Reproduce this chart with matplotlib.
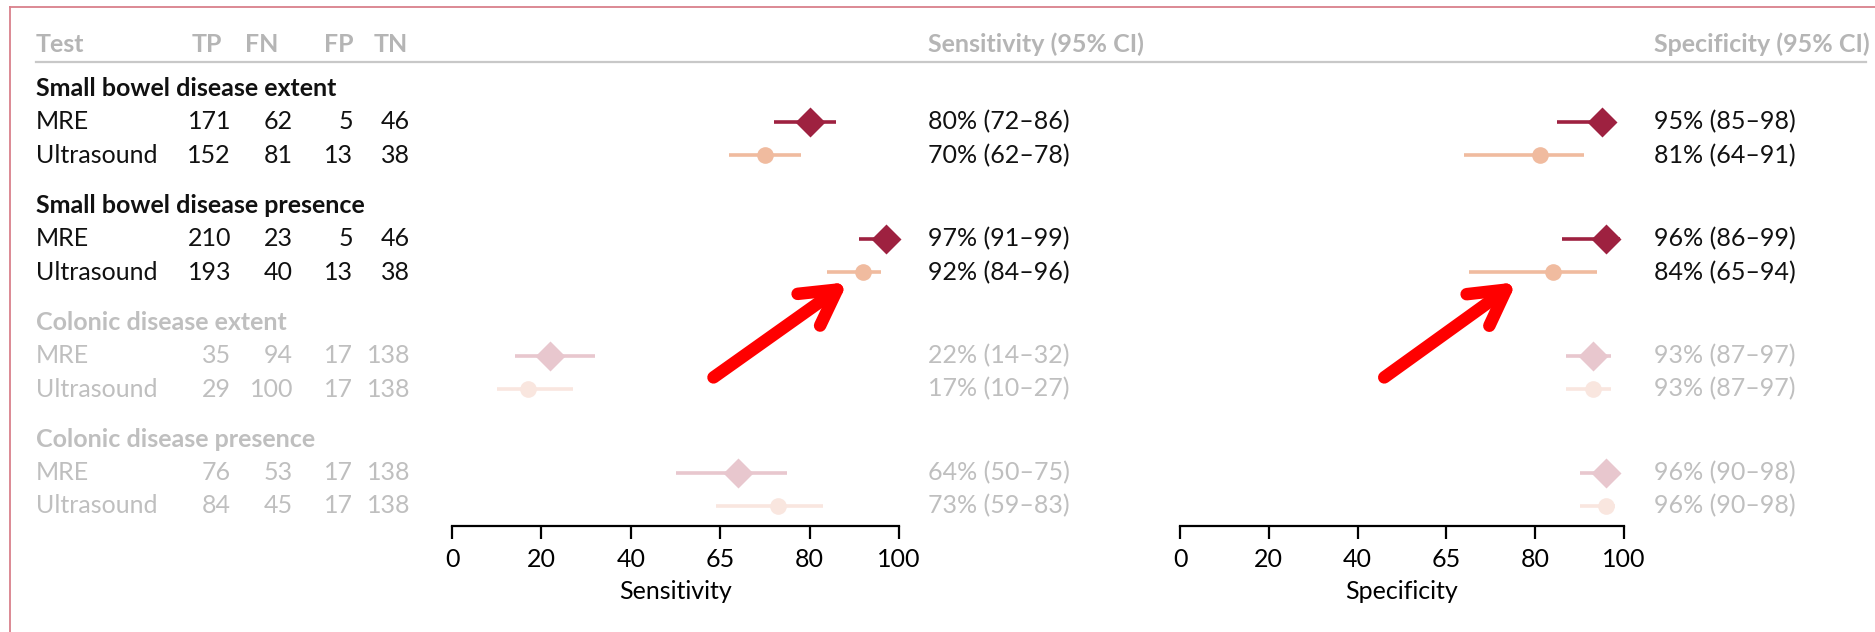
import matplotlib
matplotlib.use("Agg")
import matplotlib.pyplot as plt
from matplotlib.lines import Line2D

plt.rcParams['font.family'] = ['Lato', 'DejaVu Sans']

# ---- data ----
groups = ["Small bowel disease extent", "Small bowel disease presence",
          "Colonic disease extent", "Colonic disease presence"]
tests = ["MRE", "Ultrasound"] * 4
tp = [171, 152, 210, 193, 35, 29, 76, 84]
fn = [62, 81, 23, 40, 94, 100, 53, 45]
fp = [5, 13, 5, 13, 17, 17, 17, 17]
tn = [46, 38, 46, 38, 138, 138, 138, 138]
sens = [80, 70, 97, 92, 22, 17, 64, 73]
sens_lo = [72, 62, 91, 84, 14, 10, 50, 59]
sens_hi = [86, 78, 99, 96, 32, 27, 75, 83]
spec = [95, 81, 96, 84, 93, 93, 96, 96]
spec_lo = [85, 64, 86, 65, 87, 87, 90, 90]
spec_hi = [98, 91, 99, 94, 97, 97, 98, 98]
tick_pos = [0, 20, 40, 60, 80, 100]
tick_labels = ["0", "20", "40", "65", "80", "100"]

# colours
dark_mre, dark_us = "#9e2140", "#f0bb9f"
pale_mre, pale_us = "#e8c7ce", "#f9e6df"
txt_dark, txt_pale, hdr_grey = "#111111", "#bfbfbf", "#b5b5b5"

W, H = 1875, 632
fig = plt.figure(figsize=(W / 100, H / 100), dpi=100)

# rows: group header at 3.5*g, tests at 3.5*g + 1 and + 2
def px_to_row(py):
    return (py - 88.5) / 33.4

ylim = (px_to_row(H), px_to_row(0))
axis_row = px_to_row(526)

bg = fig.add_axes([0, 0, 1, 1])
bg.set_xlim(0, W)
bg.set_ylim(*ylim)
bg.axis("off")

fs = 18
# column headers
hy = px_to_row(44)
bg.text(36, hy, "Test", color=hdr_grey, fontsize=fs, fontweight="bold", va="center")
for lab, xr in zip(["TP", "FN", "FP", "TN"], [222, 278, 354, 408]):
    bg.text(xr, hy, lab, color=hdr_grey, fontsize=fs, fontweight="bold", va="center", ha="right")
bg.text(928, hy, "Sensitivity (95% CI)", color=hdr_grey, fontsize=fs, fontweight="bold", va="center")
bg.text(1654, hy, "Specificity (95% CI)", color=hdr_grey, fontsize=fs, fontweight="bold", va="center")
bg.plot([36, 1866], [px_to_row(62)] * 2, color="#c8c8c8", lw=1.6)

row_y = []
for g, name in enumerate(groups):
    faded = g >= 2
    bg.text(36, 3.5 * g, name, fontsize=fs, fontweight="bold", va="center",
            color=txt_pale if faded else txt_dark)
    row_y += [3.5 * g + 1, 3.5 * g + 2]

for i, y in enumerate(row_y):
    col = txt_pale if i >= 4 else txt_dark
    bg.text(36, y, tests[i], fontsize=fs, va="center", color=col)
    for val, xr in zip([tp[i], fn[i], fp[i], tn[i]], [231, 293, 353, 410]):
        bg.text(xr, y, str(val), fontsize=fs, va="center", ha="right", color=col)
    bg.text(928, y, f"{sens[i]}% ({sens_lo[i]}\u2013{sens_hi[i]})", fontsize=fs, va="center", color=col)
    bg.text(1654, y, f"{spec[i]}% ({spec_lo[i]}\u2013{spec_hi[i]})", fontsize=fs, va="center", color=col)


def forest(left_px, right_px, est, lo, hi, label):
    ax = fig.add_axes([left_px / W, 0, (right_px - left_px) / W, 1])
    ax.patch.set_alpha(0)
    ax.set_xlim(0, 100)
    ax.set_ylim(*ylim)
    for i, y in enumerate(row_y):
        mre = i % 2 == 0
        if i < 4:
            c = dark_mre if mre else dark_us
        else:
            c = pale_mre if mre else pale_us
        ax.plot([lo[i], hi[i]], [y, y], color=c, lw=2.6, solid_capstyle="butt")
        ax.plot(est[i], y, marker="D" if mre else "o", ms=15 if mre else 12,
                color=c, mec="none", clip_on=False)
    for s in ["top", "left", "right"]:
        ax.spines[s].set_visible(False)
    ax.spines["bottom"].set_position(("data", axis_row))
    ax.spines["bottom"].set_linewidth(1.6)
    ax.set_yticks([])
    ax.set_xticks(tick_pos)
    ax.set_xticklabels(tick_labels, fontsize=fs)
    ax.tick_params(axis="x", direction="out", length=9, width=1.6, pad=7)
    ax.text(50, px_to_row(592), label, ha="center", va="center", fontsize=fs)
    return ax


ax_s = forest(452, 899, sens, sens_lo, sens_hi, "Sensitivity")
ax_p = forest(1180, 1624, spec, spec_lo, spec_hi, "Specificity")

# red arrows pointing to the ultrasound small bowel presence estimates
arrow = dict(arrowstyle="->,head_length=1.25,head_width=0.7", color="red",
             lw=9, capstyle="round", joinstyle="round", shrinkA=0, shrinkB=0,
             mutation_scale=20)
ax_s.annotate("", xy=(88.5, 5.8), xytext=(58.5, 8.65), arrowprops=arrow, annotation_clip=False)
ax_p.annotate("", xy=(75.8, 5.8), xytext=(46.0, 8.65), arrowprops=arrow, annotation_clip=False)

# page frame (top and left edge)
fig.add_artist(Line2D([10 / W, 1], [1 - 7 / H] * 2, color="#d9808b", lw=1.3))
fig.add_artist(Line2D([10 / W] * 2, [0, 1 - 7 / H], color="#d9808b", lw=1.3))

fig.savefig("out.png", dpi=100)
